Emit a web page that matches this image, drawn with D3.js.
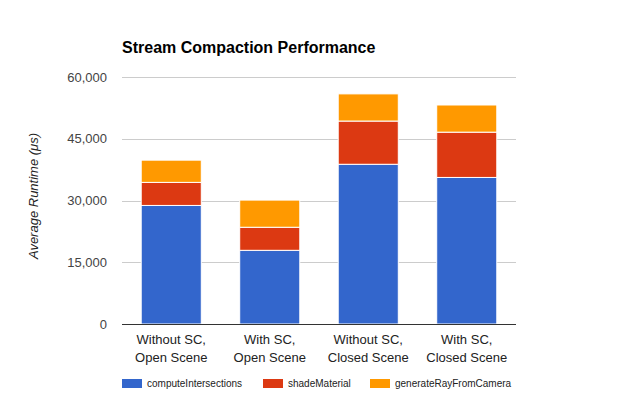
<!DOCTYPE html>
<html><head><meta charset="utf-8">
<script src="https://cdn.jsdelivr.net/npm/d3@7"></script>
<style>body{margin:0;background:#fff;} svg{display:block;font-family:"Liberation Sans",Arial,sans-serif;}</style>
</head><body>
<svg id="chart" width="637" height="402"></svg>
<script>
const categories = [["Without SC,","Open Scene"],["With SC,","Open Scene"],["Without SC,","Closed Scene"],["With SC,","Closed Scene"]];
const seriesNames = ["computeIntersections","shadeMaterial","generateRayFromCamera"];
const computeIntersections = [28800, 17900, 38800, 35600];
const shadeMaterial = [5600, 5600, 10500, 11000];
const generateRayFromCamera = [5400, 6600, 6600, 6600];
const yTicks = [0, 15000, 30000, 45000, 60000];
const colors = ["#3366cc", "#dc3912", "#ff9900"];

(function () {
const svg = d3.select("#chart");
const pLeft = 122, pRight = 516, pTop = 77, pBottom = 324;
const x = d3.scaleBand().domain(d3.range(categories.length)).range([pLeft, pRight]).paddingInner(0.39).paddingOuter(0.195);
const y = d3.scaleLinear().domain([0, 60000]).range([pBottom, pTop]);

const table = categories.map((c, i) => ({i, computeIntersections: computeIntersections[i], shadeMaterial: shadeMaterial[i], generateRayFromCamera: generateRayFromCamera[i]}));
const stacked = d3.stack().keys(seriesNames)(table);

// gridlines
svg.append("g").selectAll("line").data(yTicks.filter(t => t > 0)).join("line")
  .attr("x1", pLeft).attr("x2", pRight).attr("y1", d => Math.round(y(d)) + 0.5).attr("y2", d => Math.round(y(d)) + 0.5)
  .attr("stroke", "#cccccc").attr("stroke-width", 1);

// bars
svg.append("g").selectAll("g").data(stacked).join("g")
  .attr("fill", (d, k) => colors[k])
  .selectAll("rect").data(d => d).join("rect")
  .attr("x", d => x(d.data.i)).attr("width", x.bandwidth())
  .attr("y", d => y(d[1])).attr("height", d => y(d[0]) - y(d[1]))
  .attr("stroke", "#ffffff").attr("stroke-width", 1);

// baseline
svg.append("line").attr("x1", pLeft).attr("x2", pRight).attr("y1", Math.round(y(0)) + 0.5).attr("y2", Math.round(y(0)) + 0.5)
  .attr("stroke", "#333333").attr("stroke-width", 1);

// y axis
const yAxis = d3.axisLeft(y).tickValues(yTicks).tickSize(0).tickPadding(15).tickFormat(d3.format(","));
const ga = svg.append("g").attr("transform", `translate(${pLeft},0)`).call(yAxis);
ga.select(".domain").remove();
ga.selectAll("text").attr("font-size", 13).attr("fill", "#444444").attr("font-family", "Liberation Sans, Arial, sans-serif");

// x labels
const gx = svg.append("g");
categories.forEach((c, i) => {
  c.forEach((line, j) => {
    gx.append("text").attr("x", x(i) + x.bandwidth() / 2).attr("y", 344 + j * 18)
      .attr("text-anchor", "middle").attr("font-size", 13).attr("fill", "#222222").text(line);
  });
});

// title
svg.append("text").attr("x", 122).attr("y", 53).attr("font-size", 16).attr("font-weight", "bold")
  .attr("fill", "#000").text("Stream Compaction Performance");

// y title
svg.append("text").attr("transform", "translate(38,196) rotate(-90)").attr("text-anchor", "middle")
  .attr("font-size", 13).attr("font-style", "italic").attr("fill", "#222222").text("Average Runtime (μs)");

// legend
const legendX = [122, 263, 370];
const lg = svg.append("g");
seriesNames.forEach((s, k) => {
  lg.append("rect").attr("x", legendX[k]).attr("y", 379).attr("width", 20).attr("height", 9).attr("fill", colors[k]);
  lg.append("text").attr("x", legendX[k] + 25).attr("y", 387).attr("font-size", 10)
    .attr("fill", "#222222").text(s);
});
})();
</script>
</body></html>
